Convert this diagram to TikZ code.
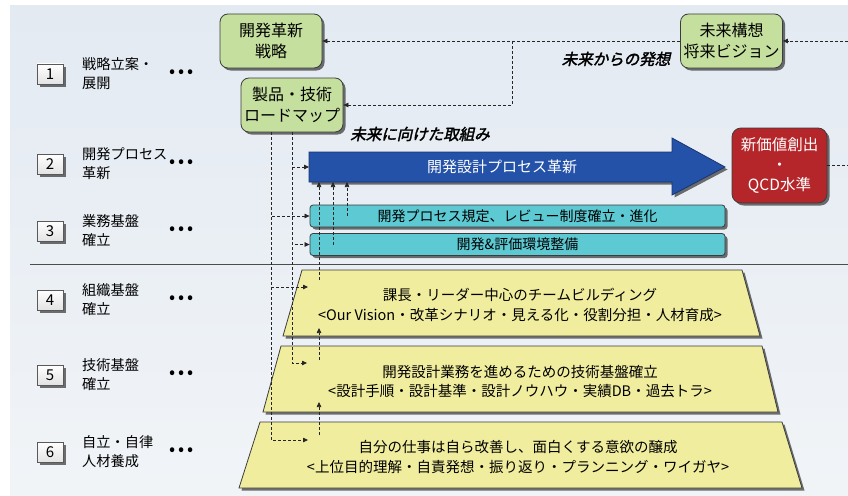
\documentclass[tikz,border=0pt]{standalone}
\usepackage{fontspec}
\setmainfont{Noto Sans CJK JP}
\newfontfamily\bifont[FakeSlant=0.22,FakeBold=2]{Noto Sans CJK JP}
\usetikzlibrary{shadows,arrows.meta}
\definecolor{bgtop}{HTML}{E3EAF2}
\definecolor{bgbot}{HTML}{F1F4F7}
\definecolor{gfill}{HTML}{C5DF9E}
\definecolor{bfill}{HTML}{2452A8}
\definecolor{bline}{HTML}{1A3470}
\definecolor{rfill}{HTML}{B5262B}
\definecolor{cfill}{HTML}{5CC9D3}
\definecolor{yfill}{HTML}{F1ED9E}
\definecolor{edge}{HTML}{3C3C3C}
\tikzset{
  sh/.style={drop shadow={shadow xshift=2.5pt,shadow yshift=-2.5pt,fill=black,opacity=0.55}},
  numbox/.style={draw=gray!70!black,top color=white,bottom color=gray!22,sh,minimum width=26pt,minimum height=20pt,inner sep=0pt,font=\fontsize{15}{18}\selectfont},
  lbl/.style={align=left,inner sep=0pt,font=\fontsize{14.2}{19}\selectfont},
  dotsnode/.style={inner sep=0pt,font=\fontsize{18}{20}\selectfont},
  gbox/.style={draw=edge,line width=0.8pt,fill=gfill,rounded corners=8pt,sh,align=center,inner sep=0pt,minimum width=102pt,minimum height=54pt,font=\fontsize{16}{21}\selectfont},
  rbox/.style={draw=edge,line width=0.8pt,fill=rfill,rounded corners=9pt,sh,align=center,inner sep=0pt,minimum width=95pt,minimum height=75pt,text=white,font=\fontsize{15.5}{20}\selectfont},
  cbar/.style={draw=edge,line width=0.8pt,fill=cfill,rounded corners=3pt,sh,inner sep=0pt,minimum width=415pt,minimum height=22pt,font=\fontsize{14}{16}\selectfont},
  trap/.style={draw=edge,line width=0.8pt,fill=yfill,sh},
  traptext/.style={align=center,inner sep=0pt,font=\fontsize{14.5}{19.5}\selectfont},
  bi/.style={inner sep=0pt,font=\bifont\fontsize{15.5}{18}\selectfont},
  dd/.style={draw=black!85,line width=0.75pt,dash pattern=on 3pt off 2pt,-{Triangle[length=5pt,width=4.5pt]}},
  ddn/.style={draw=black!85,line width=0.75pt,dash pattern=on 3pt off 2pt},
}
\begin{document}
\begin{tikzpicture}[x=1pt,y=-1pt]
\useasboundingbox (0,0) rectangle (848,495);
\fill[white] (0,0) rectangle (848,495);
\shade[top color=bgtop,bottom color=bgbot] (10,6) rectangle (848,495);
\draw[gray!60!black,line width=0.8pt] (30,264) -- (848,264);

% left column
\foreach \i/\y/\a/\b in {1/74/戦略立案・/展開,2/164/開発プロセス/革新,3/231/業務基盤/確立,4/300/組織基盤/確立,5/375/技術基盤/確立,6/452/自立・自律/人材養成}{
  \node[numbox] (n\i) at (50,\y) {\i};
  \node[lbl,anchor=west] (l\i) at (82,\y) {\a\\\b};
  \node[dotsnode] (d\i) at (181.5,\y) {•\kern2.5pt•\kern2.5pt•};
}

% green boxes
\node[gbox] (s) at (271,41) {開発革新\\戦略};
\node[gbox] (p) at (292,105) {製品・技術\\ロードマップ};
\node[gbox] (v) at (731.5,41) {未来構想\\将来ビジョン};

% red box
\node[rbox] (r) at (779.5,165.5) {新価値創出\\・\\QCD水準};

% blue arrow
\path[draw=bline,line width=0.8pt,fill=bfill,sh] (309,152) -- (672,152) -- (672,138) -- (725,167) -- (672,195) -- (672,182) -- (309,182) -- cycle;
\node[inner sep=0pt,text=white,font=\fontsize{15}{18}\selectfont] (a) at (502,167) {開発設計プロセス革新};
\coordinate (A) at (309,167);
\coordinate (Ab) at (309,182);

% cyan bars
\node[cbar] (b1) at (517.5,216) {開発プロセス規定、レビュー制度確立・進化};
\node[cbar] (b2) at (517.5,244.5) {開発\&評価環境整備};

% trapezoids
\path[trap] (302,270) -- (742,270) -- (760,336) -- (283,336) -- cycle;
\node[traptext] (t1) at (520,305) {課長・リーダー中心のチームビルディング\\<Our Vision・改革シナリオ・見える化・役割分担・人材育成>};
\path[trap] (281,346) -- (762,346) -- (778,412) -- (263,412) -- cycle;
\node[traptext] (t2) at (520,381.5) {開発設計業務を進めるための技術基盤確立\\<設計手順・設計基準・設計ノウハウ・実績DB・過去トラ>};
\path[trap] (260,422) -- (782,422) -- (802,488) -- (239,488) -- cycle;
\node[traptext] (t3) at (518,457) {自分の仕事は自ら改善し、面白くする意欲の醸成\\<上位目的理解・自責発想・振り返り・プランニング・ワイガヤ>};
\coordinate (t1in) at (308,287);
\coordinate (t2in) at (307,363);
\coordinate (t3in) at (308,440);

% italic labels
\node[bi] (f1) at (616,59) {未来からの発想};
\node[bi] (f2) at (420,134) {未来に向けた取組み};

% top dashed connectors
\coordinate (rin) at (848,41);
\coordinate (br) at (512,41);
\coordinate (rout) at (848,165.5);
\draw[dd] (rin) -- (v.east);
\draw[dd] (v.west) -- (s.east);
\draw[dd] (br) |- (p.east);
\draw[ddn] (r.east) -- (rout);

% down connectors from roadmap
\coordinate (pl) at (271,132);
\draw[dd] (p.south) |- (A);
\draw[dd] (p.south) |- (b2.west);
\draw[dd] (p.south) |- (t2in);
\draw[dd] (pl) |- (b1.west);
\draw[dd] (pl) |- (t1in);
\draw[dd] (pl) |- (t3in);

% upward arrows
\draw[dd] (b1.center -| 347,0) -- (Ab -| 347,0);
\draw[dd] (b2.center -| 333,0) -- (Ab -| 333,0);
\draw[dd] (319,280) -- (Ab -| 319,0);
\draw[dd] (319,360) -- (319,328);
\draw[dd] (319,435) -- (319,402);
\end{tikzpicture}
\end{document}
